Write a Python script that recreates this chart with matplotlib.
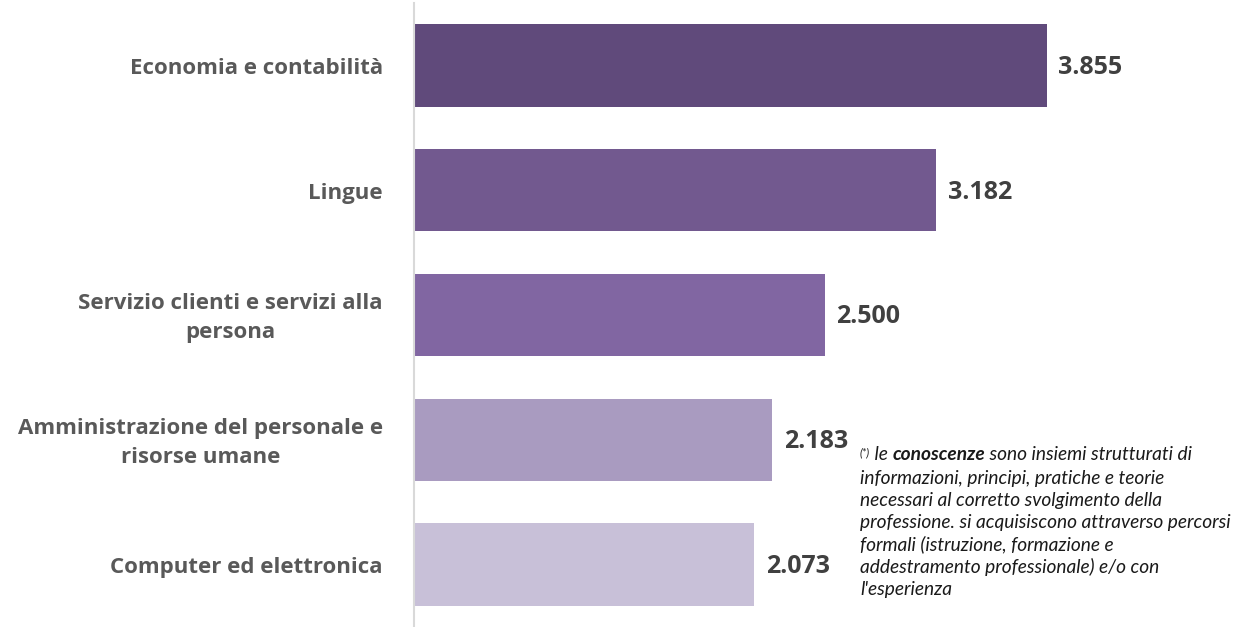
import matplotlib.pyplot as plt

categories = ['Economia e contabilità', 'Lingue',
              'Servizio clienti e servizi alla\npersona',
              'Amministrazione del personale e\nrisorse umane',
              'Computer ed elettronica']
values = [3.855, 3.182, 2.500, 2.183, 2.073]
value_labels = ['3.855', '3.182', '2.500', '2.183', '2.073']
colors = ['#604a7b', '#72598f', '#8166a2', '#a99bc0', '#c8c0d8']

footnote_lines = [
    'informazioni, principi, pratiche e teorie',
    'necessari al corretto svolgimento della',
    'professione. si acquisiscono attraverso percorsi',
    'formali (istruzione, formazione e',
    'addestramento professionale) e/o con',
    "l'esperienza",
]

plt.rcParams['font.family'] = ['Open Sans', 'DejaVu Sans']

fig = plt.figure(figsize=(12.34, 6.27), dpi=100)
ax = fig.add_axes([414 / 1234, 0, 1 - 414 / 1234, 624 / 627])

y = list(range(len(categories)))
ax.barh(y, values, height=0.66, color=colors)
ax.set_ylim(len(categories) - 0.5, -0.5)
ax.set_xlim(0, (1234 - 414) / 164.2)

for yi, v, lab in zip(y, values, value_labels):
    ax.text(v + 0.07, yi + 0.015, lab, ha='left', va='center', fontsize=18,
            fontweight='bold', color='#404040')

for yi, cat in zip(y, categories):
    ax.text(-0.19, yi + 0.025, cat, ha='right', va='center',
            multialignment='center', fontsize=16, fontweight='bold',
            color='#595959', linespacing=1.5)

for s in ['top', 'right', 'bottom']:
    ax.spines[s].set_visible(False)
ax.spines['left'].set_color('#d9d9d9')
ax.spines['left'].set_linewidth(1.5)
ax.set_xticks([])
ax.set_yticks([])

# footnote (italic), first line built from pieces
fn = dict(family=['Lato', 'DejaVu Sans'], style='italic', color='#1a1a1a')
fs = 13.8
x0 = 860 / 1234
prev = fig.text(x0, 1 - 458 / 627, '(*)', fontsize=8, va='bottom', **fn)
pieces = [(' le ', 'normal'), ('conoscenze', 'bold'),
          (' sono insiemi strutturati di', 'normal')]
for i, (txt, w) in enumerate(pieces):
    prev = ax.annotate(txt, xycoords=prev, xy=(1, 0) if i else (1, -0.45),
                       va='bottom', fontsize=fs, fontweight=w,
                       annotation_clip=False, **fn)
for k, line in enumerate(footnote_lines):
    fig.text(x0, 1 - (484 + 22.2 * k) / 627, line, fontsize=fs,
             va='baseline', **fn)

fig.savefig('out.png', dpi=100)
